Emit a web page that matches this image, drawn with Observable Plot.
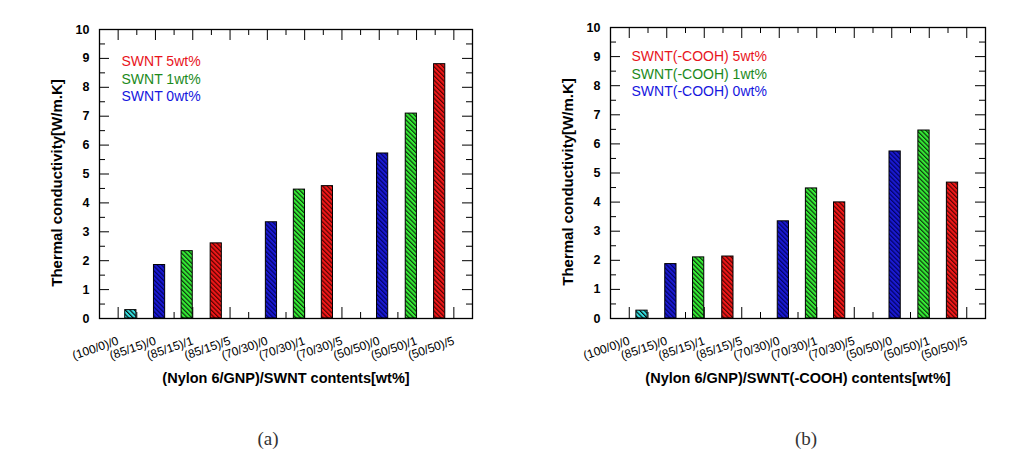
<!DOCTYPE html>
<html><head><meta charset="utf-8">
<script src="https://cdn.jsdelivr.net/npm/d3@7"></script>
<script src="https://cdn.jsdelivr.net/npm/@observablehq/plot@0.6"></script>
<style>
body{margin:0;background:#fff;font-family:"Liberation Sans",Arial,sans-serif;}
#wrap{position:relative;width:1028px;height:466px;overflow:hidden;}
.panel{position:absolute;top:0;width:514px;height:400px;}
.cap{position:absolute;top:428px;font-family:"Liberation Serif","DejaVu Serif",serif;font-size:19px;color:#333;transform:translateX(-50%);}
</style></head><body>
<svg width="0" height="0" style="position:absolute">
<defs>
 <pattern id="h-cyan" patternUnits="userSpaceOnUse" width="3.2" height="3.2" patternTransform="rotate(-45)">
  <rect width="3.2" height="3.2" fill="#35e3e3"/><line x1="0.6" y1="0" x2="0.6" y2="3.2" stroke="#000" stroke-width="1.1"/>
 </pattern>
 <pattern id="h-blue" patternUnits="userSpaceOnUse" width="3.2" height="3.2" patternTransform="rotate(-45)">
  <rect width="3.2" height="3.2" fill="#1a1ad2"/><line x1="0.6" y1="0" x2="0.6" y2="3.2" stroke="#00005a" stroke-width="1.1"/>
 </pattern>
 <pattern id="h-green" patternUnits="userSpaceOnUse" width="3.2" height="3.2" patternTransform="rotate(-45)">
  <rect width="3.2" height="3.2" fill="#35ec35"/><line x1="0.6" y1="0" x2="0.6" y2="3.2" stroke="#0a2a0a" stroke-width="1.1"/>
 </pattern>
 <pattern id="h-red" patternUnits="userSpaceOnUse" width="3.2" height="3.2" patternTransform="rotate(-45)">
  <rect width="3.2" height="3.2" fill="#f01818"/><line x1="0.6" y1="0" x2="0.6" y2="3.2" stroke="#4a0000" stroke-width="1.1"/>
 </pattern>
</defs>
</svg>
<div id="wrap">
 <div class="panel" id="pa" style="left:0"></div>
 <div class="panel" id="pb" style="left:514px"></div>
 <div class="cap" style="left:268px">(a)</div>
 <div class="cap" style="left:806px">(b)</div>
</div>
<script>
// ---- data ----
const categories = ["(100/0)/0","(85/15)/0","(85/15)/1","(85/15)/5","(70/30)/0","(70/30)/1","(70/30)/5","(50/50)/0","(50/50)/1","(50/50)/5"];
const barPositions = [0.34,1.11,1.85,2.63,4.11,4.86,5.61,7.09,7.86,8.62];
const barSeries = ["base","0wt","1wt","5wt","0wt","1wt","5wt","0wt","1wt","5wt"];
const valuesA = [0.29,1.85,2.33,2.60,3.33,4.46,4.58,5.71,7.09,8.80];
const valuesB = [0.27,1.87,2.10,2.13,3.34,4.47,3.99,5.74,6.46,4.67];
const legendA = ["SWNT 5wt%","SWNT 1wt%","SWNT 0wt%"];
const legendB = ["SWNT(-COOH) 5wt%","SWNT(-COOH) 1wt%","SWNT(-COOH) 0wt%"];
const legendColors = ["#e8141c","#1c8a1c","#1616de"];
const yTicks = [0,1,2,3,4,5,6,7,8,9,10];
const yMinor = [0.5,1.5,2.5,3.5,4.5,5.5,6.5,7.5,8.5,9.5];
const xMajor = [0,1,2,3,4,5,6,7,8,9];
const xMinor = [0.5,1.5,2.5,3.5,4.5,5.5,6.5,7.5,8.5];
const yTitle = "Thermal conductivity[W/m.K]";
const xTitleA = "(Nylon 6/GNP)/SWNT contents[wt%]";
const xTitleB = "(Nylon 6/GNP)/SWNT(-COOH) contents[wt%]";
const patternOf = {base:"url(#h-cyan)","0wt":"url(#h-blue)","1wt":"url(#h-green)","5wt":"url(#h-red)"};

function chart(values, legend, xTitle, m) {
  const width = 514, height = 400;
  const W = width - m.left - m.right, H = height - m.top - m.bottom;
  const bars = values.map((v, i) => ({pos: barPositions[i], v, s: barSeries[i]}));
  const hw = 0.15;
  return Plot.plot({
    width, height,
    marginLeft: m.left, marginRight: m.right, marginTop: m.top, marginBottom: m.bottom,
    style: {fontFamily: "'Liberation Sans', Arial, sans-serif", background: "white", color: "black"},
    x: {domain: [-0.5, 9.5], axis: null},
    y: {domain: [0, 10], axis: null},
    color: {type: "identity"},
    marks: [
      // inward ticks
      Plot.ruleY(yTicks, {stroke: "black", insetRight: W - 10}),
      Plot.ruleY(yTicks, {stroke: "black", insetLeft: W - 10}),
      Plot.ruleY(yMinor, {stroke: "black", insetRight: W - 6}),
      Plot.ruleY(yMinor, {stroke: "black", insetLeft: W - 6}),
      Plot.ruleX(xMajor, {stroke: "black", insetBottom: H - 11}),
      Plot.ruleX(xMajor, {stroke: "black", insetTop: H - 11}),
      Plot.ruleX(xMinor, {stroke: "black", insetBottom: H - 6}),
      Plot.ruleX(xMinor, {stroke: "black", insetTop: H - 6}),
      Plot.rectY(bars, {x1: d => d.pos - hw, x2: d => d.pos + hw, y1: 0, y2: "v", fill: d => patternOf[d.s], stroke: "black", strokeWidth: 1}),
      Plot.frame({stroke: "black", strokeWidth: 1.3}),
      Plot.axisY(yTicks, {tickSize: 0, tickPadding: 10, fontSize: 12.5, fontWeight: "bold", label: null}),
      Plot.text(categories, {x: (d, i) => xMajor[i], frameAnchor: "bottom", dy: 22, rotate: -19, textAnchor: "end", lineAnchor: "middle", fontSize: 12}),
      Plot.text([xTitle], {frameAnchor: "bottom", dy: 60, textAnchor: "middle", lineAnchor: "middle", fontSize: 14.5, fontWeight: "bold"}),
      Plot.text([yTitle], {frameAnchor: "left", dx: -42, dy: 9, rotate: -90, textAnchor: "middle", lineAnchor: "middle", fontSize: 15, fontWeight: "bold"}),
      ...legend.map((t, i) => Plot.text([t], {frameAnchor: "top-left", dx: m.legX, dy: m.legY + i * 17.5, textAnchor: "start", lineAnchor: "middle", fontSize: 14, fill: legendColors[i]}))
    ]
  });
}

document.getElementById("pa").append(chart(valuesA, legendA, xTitleA, {left: 99, right: 42, top: 29, bottom: 82, legX: 22, legY: 32.4}));
document.getElementById("pb").append(chart(valuesB, legendB, xTitleB, {left: 96, right: 43, top: 27, bottom: 82, legX: 21, legY: 29.4}));
</script>
</body></html>
